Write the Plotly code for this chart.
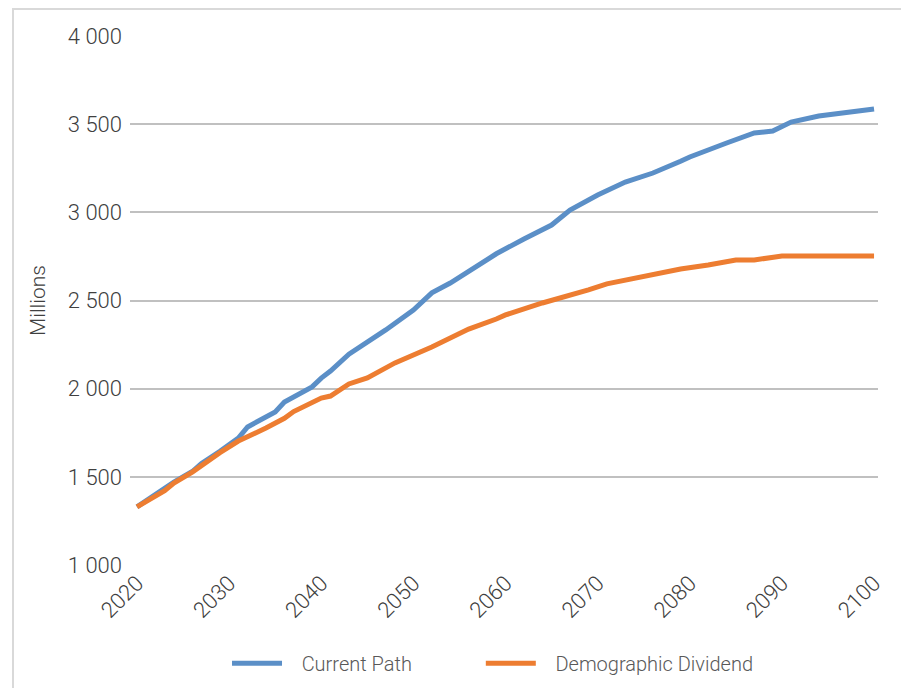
import plotly.graph_objects as go

# Current Path (millions)
cp_years = [2020, 2022, 2024, 2026, 2027, 2029, 2031, 2032, 2035, 2036, 2038, 2039, 2040, 2041,
            2043, 2047, 2050, 2052, 2054, 2056, 2059, 2062, 2065, 2067, 2070, 2073, 2076, 2079,
            2080, 2084, 2087, 2089, 2091, 2094, 2097, 2100]
cp_values = [1330, 1400, 1470, 1530, 1575, 1645, 1720, 1783, 1868, 1924, 1985, 2010, 2060, 2100,
             2196, 2333, 2446, 2543, 2599, 2667, 2765, 2849, 2928, 3013, 3098, 3172, 3223, 3290,
             3314, 3393, 3450, 3461, 3512, 3546, 3569, 3586]

# Demographic Dividend (millions)
dd_years = [2020, 2023, 2024, 2026, 2029, 2031, 2034, 2036, 2037, 2039, 2040, 2041, 2043, 2045,
            2048, 2052, 2055, 2056, 2059, 2060, 2064, 2068, 2069, 2071, 2075, 2079, 2082, 2085,
            2087, 2090, 2100]
dd_values = [1330, 1421, 1465, 1527, 1637, 1703, 1777, 1832, 1870, 1924, 1947, 1958, 2027, 2061,
             2146, 2236, 2316, 2338, 2395, 2418, 2486, 2543, 2560, 2594, 2633, 2679, 2701, 2730,
             2730, 2752, 2752]

series_names = ["Current Path", "Demographic Dividend"]
series_colors = ["#5B8FC7", "#ED7D31"]

y_tickvals = [1000, 1500, 2000, 2500, 3000, 3500, 4000]
y_ticktext = ["1 000", "1 500", "2 000", "2 500", "3 000", "3 500", "4 000"]
x_tickvals = [2020, 2030, 2040, 2050, 2060, 2070, 2080, 2090, 2100]

FONT = "Roboto"
PAD = "\u00a0\u00a0\u00a0"

fig = go.Figure()
for yrs, vals, name, col, lg in [(cp_years, cp_values, series_names[0], series_colors[0], "legend"),
                                 (dd_years, dd_values, series_names[1], series_colors[1], "legend2")]:
    fig.add_trace(go.Scatter(x=yrs, y=vals, mode="lines", name=PAD + name, legend=lg,
                             line=dict(color=col, width=5, shape="linear")))

legend_common = dict(orientation="h", xanchor="left", y=-0.1855, yanchor="middle",
                     font=dict(size=20, color="#595959", weight=300), itemwidth=50,
                     bgcolor="rgba(0,0,0,0)")

fig.update_layout(
    width=901, height=680,
    margin=dict(l=122, r=31, t=28, b=123, autoexpand=False),
    paper_bgcolor="white", plot_bgcolor="white",
    font=dict(family=FONT, color="#404040", weight=300),
    showlegend=True,
    legend=dict(x=0.1297, **legend_common),
    legend2=dict(x=0.469, **legend_common),
    xaxis=dict(range=[2019.24, 2100.43], tickvals=x_tickvals, tickangle=-45, automargin=False,
               showgrid=False, zeroline=False, showline=False, ticks="",
               tickfont=dict(size=22, color="#404040", weight=300)),
    yaxis=dict(range=[1000, 4000], tickvals=y_tickvals, ticktext=y_ticktext, automargin=False,
               showgrid=True, gridcolor="#C0C0C0", gridwidth=1.5, zeroline=False,
               showline=False, ticks="", ticklabelstandoff=7,
               tickfont=dict(size=22, color="#404040", weight=300),
               title=dict(text="Millions", font=dict(size=21, color="#404040", weight=300),
                          standoff=16)),
)

fig.add_shape(type="rect", xref="paper", yref="paper",
              x0=-0.1564, x1=1.0348, y0=-0.26, y1=1.0510,
              line=dict(color="#D9D9D9", width=2), fillcolor="rgba(0,0,0,0)", layer="above")

fig.write_html("out.html")
